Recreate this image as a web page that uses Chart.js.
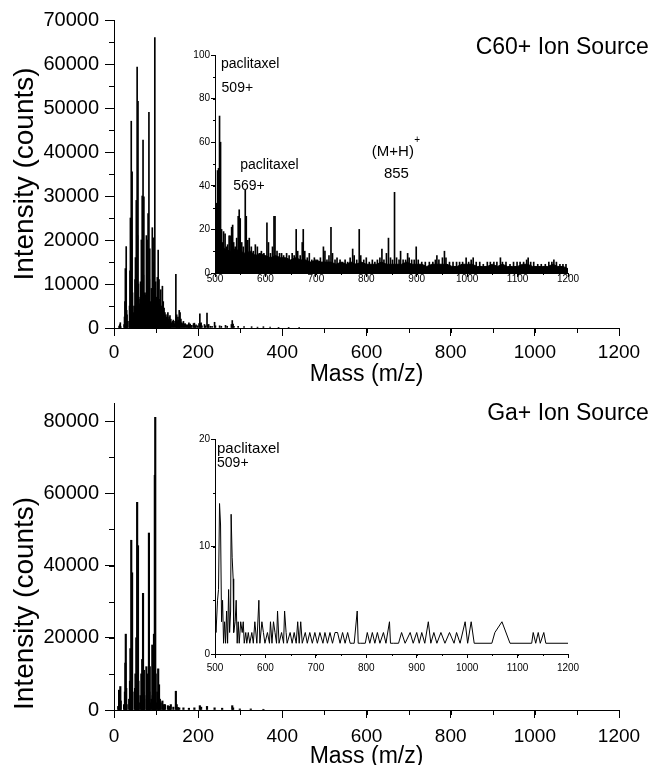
<!DOCTYPE html>
<html>
<head>
<meta charset="utf-8">
<script src="https://cdn.jsdelivr.net/npm/chart.js@4.4.0/dist/chart.umd.min.js"></script>
<style>
  html, body { margin: 0; padding: 0; background: #fff; overflow: hidden; }
  #wrap { position: relative; width: 652px; height: 765px; }
  canvas { position: absolute; }
</style>
</head>
<body>
<div id="wrap">
  <canvas id="c60Main" width="652" height="390" style="left:0;top:0"></canvas>
  <canvas id="c60Inset" width="440" height="260" style="left:150px;top:40px"></canvas>
  <canvas id="gaMain" width="652" height="395" style="left:0;top:380px"></canvas>
  <canvas id="gaInset" width="440" height="270" style="left:150px;top:420px"></canvas>
</div>
<script>
// tick values
const massTicks = [0, 200, 400, 600, 800, 1000, 1200];
const insetMassTicks = [500, 600, 700, 800, 900, 1000, 1100, 1200];
const c60CountTicks = [0, 10000, 20000, 30000, 40000, 50000, 60000, 70000];
const gaCountTicks = [0, 20000, 40000, 60000, 80000];
const c60InsetTicks = [0, 20, 40, 60, 80, 100];
const gaInsetTicks = [0, 10, 20];

// C60+ full spectrum: [mass, counts]
const c60Peaks = [
  [12,300],[13,500],[14,800],[15,1200],[16,300],[24,800],[25,2500],[26,6000],[27,13500],[28,5000],
  [29,18500],[30,4000],[31,3000],[32,1500],[36,1500],[37,5000],[38,13000],[39,25000],[40,9000],[41,47000],
  [42,20000],[43,35500],[44,8000],[45,5000],[46,3000],[47,3500],[48,3000],[49,5000],[50,11000],[51,16000],
  [52,9000],[53,29000],[54,14000],[55,59300],[56,21000],[57,51500],[58,10000],[59,7000],[60,5000],[61,5500],
  [62,6500],[63,10500],[64,7000],[65,20000],[66,9000],[67,30000],[68,14000],[69,42700],[70,12000],[71,29800],
  [72,8000],[73,6000],[74,5500],[75,7500],[76,8000],[77,21000],[78,10500],[79,20000],[80,8000],[81,26000],
  [82,9500],[83,49000],[84,11000],[85,18000],[86,6000],[87,5000],[88,5500],[89,9000],[90,8000],[91,22800],
  [92,8000],[93,20500],[94,7000],[95,15000],[96,7500],[97,66000],[98,9000],[99,10500],[100,5000],[101,7000],
  [102,6500],[103,11500],[104,6000],[105,17700],[106,5500],[107,11000],[108,4000],[109,6500],[110,3500],[111,8700],
  [112,3000],[113,5000],[114,2500],[115,9500],[116,3500],[117,6000],[118,2500],[119,4500],[120,2000],[121,3500],
  [122,1800],[123,3000],[124,1500],[125,2500],[126,1500],[127,3000],[128,3500],[129,2000],[130,1500],[131,2500],
  [132,1200],[133,2800],[134,1000],[135,2000],[137,1200],[139,1500],[141,1800],[143,1000],[145,1500],[147,12200],
  [148,2500],[149,3000],[151,1500],[152,2500],[153,1800],[155,4000],[156,1500],[157,3500],[159,2000],[161,1200],
  [163,1000],[165,1500],[167,900],[169,1000],[171,800],[173,600],[175,700],[177,800],[178,1200],[179,700],
  [181,900],[183,500],[185,600],[189,1000],[191,1100],[193,500],[195,700],[199,500],[202,1000],[204,3200],
  [205,1000],[207,1200],[209,500],[215,800],[217,500],[221,3400],[223,700],[225,800],[229,400],[233,400],
  [239,1300],[241,500],[251,500],[255,400],[265,600],[269,400],[279,800],[281,1700],[283,900],[285,400],
  [295,400],[309,300],[327,300],[341,200],[355,300],[371,200],[391,150],[415,150],[440,100]
];

// C60+ inset 500-1200: noise floor and peaks
const c60Floor = [
  [500,16],[510,12],[520,11],[530,10],[540,11],[550,10],[560,9],[570,10],[580,8],[590,9],
  [600,8],[610,7],[620,8],[630,7],[640,7],[650,6],[660,7],[670,6],[680,6],[690,5],
  [700,6],[710,5],[720,5],[730,5],[740,4],[750,5],[760,4],[770,5],[780,4],[790,5],
  [800,4],[810,4],[820,4],[830,5],[840,4],[850,4],[860,4],[870,4],[880,5],[890,4],
  [900,4],[910,4],[920,3],[930,4],[940,4],[950,4],[960,4],[970,3],[980,3],[990,4],
  [1000,4],[1010,4],[1020,3],[1030,3],[1040,3],[1050,4],[1060,3],[1070,4],[1080,3],[1090,3],
  [1100,3],[1110,4],[1120,4],[1130,3],[1140,3],[1150,3],[1160,3],[1170,4],[1180,3],[1190,3],[1200,2]
];
const c60InsetPeaks = [
  [503,32],[505,47],[507,48],[509,72],[511,60],[513,20],[515,14],[517,19],[520,18],[523,12],
  [525,13],[528,17],[530,17],[533,21],[535,22],[537,14],[540,12],[543,16],[546,26],[548,29],
  [550,25],[553,14],[556,12],[560,38],[562,26],[565,15],[568,16],[572,12],[576,10],[580,13],
  [584,12],[588,9],[592,10],[597,9],[603,23],[606,14],[610,9],[614,12],[617,26],[619,26],
  [623,10],[628,9],[632,9],[636,8],[642,9],[647,8],[653,9],[657,8],[661,20],[664,10],
  [669,8],[673,14],[675,20],[678,10],[683,7],[687,9],[692,6],[697,7],[703,6],[709,7],
  [715,12],[718,10],[722,6],[726,8],[730,21],[733,9],[738,6],[742,7],[748,6],[753,5],
  [758,6],[763,5],[768,7],[773,11],[776,8],[781,6],[786,20],[789,8],[795,6],[800,7],
  [806,5],[812,6],[817,5],[822,6],[827,7],[831,11],[835,6],[840,9],[844,16],[848,7],
  [852,6],[856,37],[860,7],[865,6],[868,10],[873,6],[878,6],[882,9],[885,7],[890,6],
  [895,6],[899,12],[903,6],[910,5],[917,5],[925,5],[932,5],[937,6],[940,8],[944,6],
  [951,7],[955,10],[958,7],[965,5],[972,5],[979,5],[985,5],[991,5],[998,7],[1003,5],
  [1008,6],[1012,7],[1018,5],[1025,5],[1032,4],[1040,5],[1046,5],[1053,5],[1059,5],[1066,7],
  [1070,5],[1077,5],[1085,4],[1092,5],[1099,5],[1105,5],[1112,5],[1118,6],[1121,7],[1126,5],
  [1132,5],[1140,4],[1147,4],[1155,4],[1162,5],[1168,5],[1172,6],[1177,5],[1184,4],[1190,4],[1196,4]
];

// Ga+ full spectrum: [mass, counts]
const gaPeaks = [
  [10,1000],[12,5500],[13,2000],[15,6500],[16,2500],[24,1500],[26,5000],[27,13000],[28,21000],[29,6000],
  [30,1500],[36,3000],[38,8000],[39,17000],[40,4000],[41,47000],[42,6000],[43,38000],[44,5000],[50,6000],
  [51,10000],[52,3000],[53,20000],[54,5000],[55,57500],[56,8000],[57,45500],[58,8000],[59,2000],[63,4000],
  [65,10000],[66,3000],[67,14000],[68,4000],[69,32300],[70,5000],[71,11000],[72,4000],[77,12000],[78,3000],
  [79,8000],[80,2000],[81,10000],[82,3000],[83,49000],[84,5000],[85,12000],[86,2000],[89,3000],[91,18000],
  [92,4000],[93,9000],[94,2000],[95,21000],[96,5000],[97,65000],[98,81000],[99,10000],[100,2000],[103,5000],
  [105,11400],[106,2000],[107,7000],[109,3000],[111,2000],[115,2500],[117,1200],[119,1500],[121,1500],[128,1200],
  [131,800],[133,1000],[135,1500],[141,800],[147,5200],[149,1500],[152,700],[155,600],[165,600],[178,500],
  [191,600],[204,1200],[207,800],[221,1000],[239,600],[257,500],[281,1200],[283,600],[299,300],[325,300],[355,200]
];

// Ga+ inset 500-1200
const gaInsetPoints = [
  [500,4],[502,2],[505,5],[507,6],[509,14],[511,12],[513,3],[515,5],[517,1],[519,3],
  [521,1],[523,4],[525,1],[527,6],[529,2],[531,4],[532,13],[534,9],[536,7],[537,2],
  [540,3],[542,5],[544,1],[546,3],[548,1],[551,3],[554,2],[556,3],[558,1],[561,2],
  [563,1],[566,2],[569,1],[573,2],[576,1],[579,3],[583,1],[587,5],[589,1],[593,3],
  [596,2],[599,1],[604,2],[608,1],[610,3],[613,1],[616,3],[619,2],[622,1],[624,4],
  [627,1],[632,2],[636,1],[638,4],[641,2],[643,1],[649,2],[653,1],[657,2],[661,1],
  [664,3],[667,1],[670,3],[673,1],[679,2],[683,1],[688,2],[693,1],[698,2],[703,1],
  [708,2],[714,1],[718,2],[723,1],[728,2],[733,1],[738,2],[743,2],[748,1],[753,2],
  [758,1],[763,2],[768,1],[773,1],[776,1],[782,4],[784,1],[788,1],[798,1],[802,2],
  [807,1],[812,2],[817,1],[822,2],[827,1],[834,2],[839,1],[846,3],[848,1],[854,1],
  [864,1],[870,2],[877,1],[887,2],[893,1],[900,2],[905,1],[910,2],[916,1],[923,3],
  [928,1],[934,2],[940,1],[948,2],[956,1],[965,2],[974,1],[979,2],[986,1],[996,3],
  [1001,1],[1008,3],[1014,1],[1049,1],[1055,2],[1069,3],[1085,1],[1128,1],[1131,2],[1136,1],
  [1141,2],[1145,1],[1152,2],[1156,1],[1200,1]
];

const FONT = "'Liberation Sans', Arial, Helvetica, sans-serif";
Chart.defaults.font.family = FONT;
Chart.defaults.color = '#000';
Chart.defaults.animation = false;
Chart.defaults.plugins.legend.display = false;
Chart.defaults.plugins.tooltip.enabled = false;

const xy = arr => arr.map(p => ({ x: p[0], y: p[1] }));

// short ticks between the labelled ones
function minorTicks(axes) {
  return {
    id: 'minorTicks',
    afterDraw(chart) {
      const ctx = chart.ctx;
      ctx.save();
      ctx.strokeStyle = '#000';
      ctx.lineWidth = 1;
      axes.forEach(a => {
        const s = chart.scales[a.id];
        for (let v = s.min; v <= s.max + 1e-9; v += a.step) {
          const p = Math.round(s.getPixelForValue(v)) + 0.5;
          ctx.beginPath();
          if (s.isHorizontal()) { ctx.moveTo(p, s.top); ctx.lineTo(p, s.top + a.len); }
          else { ctx.moveTo(s.right - a.len, p); ctx.lineTo(s.right, p); }
          ctx.stroke();
        }
      });
      ctx.restore();
    }
  };
}

// text placed at data coordinates
function textLabels(items) {
  return {
    id: 'textLabels',
    afterDraw(chart) {
      const ctx = chart.ctx, xs = chart.scales.x, ys = chart.scales.y;
      ctx.save();
      ctx.fillStyle = '#000';
      ctx.textBaseline = 'middle';
      items.forEach(it => {
        ctx.font = it.size + 'px ' + FONT;
        ctx.textAlign = it.align || 'left';
        ctx.fillText(it.text, xs.getPixelForValue(it.x), ys.getPixelForValue(it.y));
      });
      ctx.restore();
    }
  };
}

function axisX(min, max, tickVals, o) {
  return {
    type: 'linear', min: min, max: max, bounds: 'data', offset: false,
    border: { color: '#000', width: 1 },
    grid: { drawOnChartArea: false, color: '#000', tickLength: o.tick, offset: false },
    ticks: { autoSkip: false, maxRotation: 0, padding: o.pad, font: { size: o.size }, color: '#000',
             callback: v => String(v) },
    afterBuildTicks: s => { s.ticks = tickVals.map(v => ({ value: v })); },
    title: o.title
      ? { display: true, text: o.title, color: '#000', font: { size: 23 }, padding: { top: 0, bottom: o.titlePad } }
      : { display: false },
    afterFit: s => { s.height = o.h; }
  };
}

function axisY(min, max, tickVals, o) {
  return {
    type: 'linear', min: min, max: max, bounds: 'data',
    border: { color: '#000', width: 1 },
    grid: { drawOnChartArea: false, color: '#000', tickLength: o.tick },
    ticks: { autoSkip: false, padding: o.pad, font: { size: o.size }, color: '#000',
             callback: v => String(v) },
    afterBuildTicks: s => { s.ticks = tickVals.map(v => ({ value: v })); },
    title: o.title
      ? { display: true, text: o.title, align: o.align || 'center', color: '#000', font: { size: 28 }, padding: { top: 8, bottom: 0 } }
      : { display: false },
    afterFit: s => { s.width = o.w; }
  };
}

// top: C60+
new Chart(document.getElementById('c60Main'), {
  type: 'bar',
  data: { datasets: [{ data: xy(c60Peaks), backgroundColor: '#000', barThickness: 1, borderWidth: 0 }] },
  options: {
    responsive: false,
    layout: { padding: { left: 0, top: 20, right: 33, bottom: 0 } },
    scales: {
      x: axisX(0, 1200, massTicks, { tick: 8, pad: 5, size: 19, h: 62, title: 'Mass (m/z)', titlePad: 2 }),
      y: axisY(0, 70000, c60CountTicks, { tick: 9, pad: 6, size: 20, w: 114, title: 'Intensity (counts)' })
    }
  },
  plugins: [
    minorTicks([{ id: 'x', step: 100, len: 5 }, { id: 'y', step: 5000, len: 5 }]),
    textLabels([{ text: 'C60+ Ion Source', x: 1271, y: 63800, size: 23, align: 'right' }])
  ]
});

new Chart(document.getElementById('c60Inset'), {
  type: 'bar',
  data: {
    datasets: [
      { type: 'line', data: xy(c60Floor), borderColor: '#000', backgroundColor: '#000', borderWidth: 1,
        pointRadius: 0, tension: 0, fill: 'origin' },
      { type: 'bar', data: xy(c60InsetPeaks), backgroundColor: '#000', barThickness: 1, borderWidth: 0 }
    ]
  },
  options: {
    responsive: false,
    layout: { padding: { left: 0, top: 15, right: 22, bottom: 0 } },
    scales: {
      x: axisX(500, 1200, insetMassTicks, { tick: 4, pad: -4, size: 10, h: 27 }),
      y: axisY(0, 100, c60InsetTicks, { tick: 4, pad: 1, size: 10, w: 65 })
    }
  },
  plugins: [
    minorTicks([{ id: 'x', step: 50, len: 2 }, { id: 'y', step: 10, len: 2 }]),
    textLabels([
      { text: 'paclitaxel', x: 512, y: 96, size: 14 },
      { text: '509+', x: 513, y: 85, size: 14 },
      { text: 'paclitaxel', x: 550, y: 49.5, size: 14 },
      { text: '569+', x: 536, y: 40, size: 14 },
      { text: '(M+H)', x: 811, y: 55.5, size: 15 },
      { text: '+', x: 895, y: 61, size: 10 },
      { text: '855', x: 835, y: 45.4, size: 15 }
    ])
  ]
});

// bottom: Ga+
new Chart(document.getElementById('gaMain'), {
  type: 'bar',
  data: { datasets: [{ data: xy(gaPeaks), backgroundColor: '#000', barThickness: 1.5, borderWidth: 0 }] },
  options: {
    responsive: false,
    layout: { padding: { left: 0, top: 23, right: 33, bottom: 0 } },
    scales: {
      x: axisX(0, 1200, massTicks, { tick: 8, pad: 7, size: 19, h: 65, title: 'Mass (m/z)', titlePad: 5 }),
      y: axisY(0, 85000, gaCountTicks, { tick: 9, pad: 6, size: 20, w: 114, title: 'Intensity (counts)', align: 'start' })
    }
  },
  plugins: [
    minorTicks([{ id: 'x', step: 100, len: 5 }, { id: 'y', step: 10000, len: 5 }]),
    textLabels([{ text: 'Ga+ Ion Source', x: 1271, y: 82100, size: 23, align: 'right' }])
  ]
});

new Chart(document.getElementById('gaInset'), {
  type: 'line',
  data: {
    datasets: [{ data: xy(gaInsetPoints), borderColor: '#000', borderWidth: 1, pointRadius: 0, tension: 0, fill: false }]
  },
  options: {
    responsive: false,
    layout: { padding: { left: 0, top: 19, right: 22, bottom: 0 } },
    scales: {
      x: axisX(500, 1200, insetMassTicks, { tick: 4, pad: 4, size: 10, h: 36 }),
      y: axisY(0, 20, gaInsetTicks, { tick: 4, pad: 1, size: 10, w: 65 })
    }
  },
  plugins: [
    minorTicks([{ id: 'x', step: 50, len: 2 }, { id: 'y', step: 5, len: 2 }]),
    textLabels([
      { text: 'paclitaxel', x: 504, y: 19.1, size: 15 },
      { text: '509+', x: 504, y: 17.8, size: 14 }
    ])
  ]
});
</script>
</body>
</html>
